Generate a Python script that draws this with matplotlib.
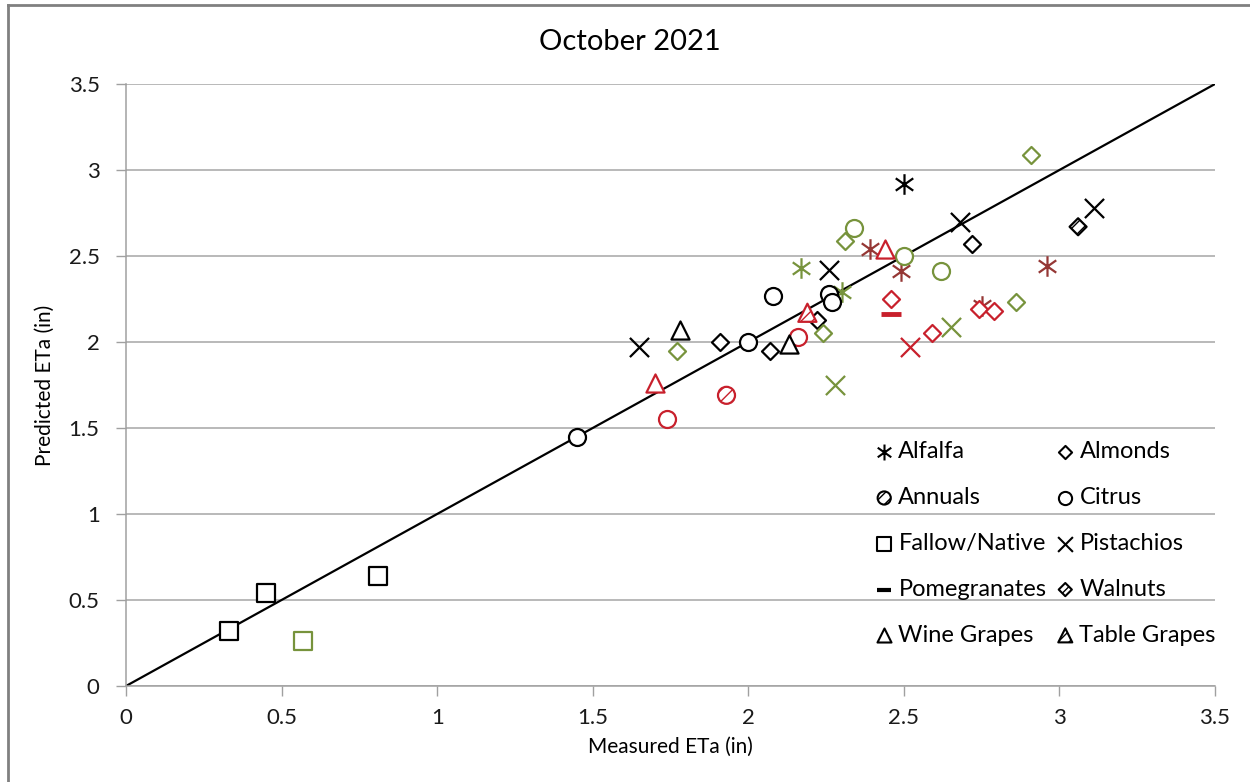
import matplotlib
matplotlib.use("Agg")
import matplotlib.pyplot as plt
from matplotlib.path import Path
from matplotlib.lines import Line2D

plt.rcParams["font.family"] = ["Lato", "DejaVu Sans"]
plt.rcParams["hatch.linewidth"] = 1.0

# colours used in the chart
black = "#000000"
green = "#77933C"
red = "#C8202C"
brown = "#953735"

# data, (x = measured, y = predicted), grouped by crop then colour
alfalfa = {
    black: ([2.50], [2.92]),
    green: ([2.17, 2.30], [2.43, 2.29]),
    brown: ([2.39, 2.49, 2.75, 2.96], [2.54, 2.41, 2.21, 2.44]),
}
almonds = {
    black: ([1.91, 2.07, 2.22, 2.72], [2.00, 1.95, 2.13, 2.57]),
    green: ([1.77, 2.24, 2.31, 2.86, 2.91], [1.95, 2.05, 2.59, 2.23, 3.09]),
    red: ([2.46, 2.59, 2.74, 2.79], [2.25, 2.05, 2.19, 2.18]),
}
annuals = {
    red: ([1.93], [1.69]),
}
citrus = {
    black: ([1.45, 2.00, 2.08, 2.26, 2.27], [1.45, 2.00, 2.27, 2.28, 2.23]),
    green: ([2.34, 2.50, 2.62], [2.66, 2.50, 2.41]),
    red: ([1.74, 2.16], [1.55, 2.03]),
}
fallow = {
    black: ([0.33, 0.45, 0.81], [0.32, 0.54, 0.64]),
    green: ([0.57], [0.26]),
}
pistachios = {
    black: ([1.65, 2.26, 2.68, 3.11], [1.97, 2.42, 2.70, 2.78]),
    green: ([2.28, 2.65], [1.75, 2.09]),
    red: ([2.52], [1.97]),
}
pomegranates = {
    red: ([2.46], [2.16]),
}
walnuts = {
    black: ([3.06], [2.67]),
}
wine_grapes = {
    black: ([1.78, 2.13], [2.07, 1.99]),
    red: ([1.70, 2.44], [1.76, 2.54]),
}
table_grapes = {
    red: ([2.19], [2.17]),
}

# Excel style "star": an X with a vertical bar
star = Path(
    [(0, -1), (0, 1), (-0.85, -0.6), (0.85, 0.6), (-0.85, 0.6), (0.85, -0.6)],
    [Path.MOVETO, Path.LINETO, Path.MOVETO, Path.LINETO, Path.MOVETO, Path.LINETO],
)

# crop -> (data, marker, size, hatch)
crops = [
    ("Alfalfa", alfalfa, star, 220, None),
    ("Almonds", almonds, "D", 75, None),
    ("Annuals", annuals, "o", 150, "///"),
    ("Citrus", citrus, "o", 150, None),
    ("Fallow/Native", fallow, "s", 170, None),
    ("Pistachios", pistachios, "x", 190, None),
    ("Pomegranates", pomegranates, "_", 190, None),
    ("Walnuts", walnuts, "D", 75, "///"),
    ("Wine Grapes", wine_grapes, "^", 170, None),
    ("Table Grapes", table_grapes, "^", 170, "///"),
]

fig = plt.figure(figsize=(12.5, 7.82), dpi=100)
ax = fig.add_axes([126 / 1250, 1 - 686 / 782, 1089 / 1250, 602 / 782])

# 1:1 line
ax.plot([0, 3.5], [0, 3.5], color="black", lw=1.6, zorder=2)

handles = {}
for name, data, marker, size, hatch in crops:
    lw = 3.5 if marker == "_" else 1.6
    for col, (xs, ys) in data.items():
        if marker in ("x", "_") or marker is star:
            ax.scatter(xs, ys, marker=marker, s=size, c=col, linewidths=lw, zorder=3)
        else:
            ax.scatter(xs, ys, marker=marker, s=size, facecolors="white",
                       edgecolors=col, linewidths=lw, hatch=hatch, zorder=3)
    # black legend entry
    if marker in ("x", "_") or marker is star:
        h = ax.scatter([], [], marker=marker, s=size * 0.6, c="black",
                       linewidths=3.0 if marker == "_" else 1.5)
    else:
        h = ax.scatter([], [], marker=marker, s=size * 0.6, facecolors="white",
                       edgecolors="black", linewidths=1.5, hatch=hatch)
    handles[name] = h

ax.set_xlim(0, 3.5)
ax.set_ylim(0, 3.5)
ticks = [0, 0.5, 1, 1.5, 2, 2.5, 3, 3.5]
tick_labels = ["0", "0.5", "1", "1.5", "2", "2.5", "3", "3.5"]
ax.set_xticks(ticks, tick_labels)
ax.set_yticks(ticks, tick_labels)
ax.tick_params(axis="both", direction="out", length=7, width=1, color="#A0A0A0",
               labelsize=16, labelcolor="#1a1a1a")
ax.tick_params(axis="y", pad=12)
ax.tick_params(axis="x", pad=9)
ax.yaxis.grid(True, color="#A6A6A6", lw=1.1)
ax.set_axisbelow(True)
for s in ["top", "right"]:
    ax.spines[s].set_visible(False)
for s in ["left", "bottom"]:
    ax.spines[s].set_color("#A0A0A0")
    ax.spines[s].set_linewidth(1.1)

ax.set_xlabel("Measured ETa (in)", fontsize=15, labelpad=6)
ax.set_ylabel("Predicted ETa (in)", fontsize=15, labelpad=10)
fig.text(630 / 1250, 1 - 42 / 782, "October 2021", fontsize=21,
         ha="center", va="center")

# legend laid out column-wise: left column then right column
order = ["Alfalfa", "Annuals", "Fallow/Native", "Pomegranates", "Wine Grapes",
         "Almonds", "Citrus", "Pistachios", "Walnuts", "Table Grapes"]
ax.legend([handles[n] for n in order], order, ncol=2, loc="upper left",
          bbox_to_anchor=(0.68, 0.422), frameon=False, fontsize=17,
          handlelength=0.7, handletextpad=0.25, columnspacing=0.45,
          labelspacing=1.05, scatterpoints=1, borderaxespad=0)

# outer frame (left and top edges visible)
fig.add_artist(Line2D([8 / 1250, 8 / 1250], [0, 1 - 5 / 782], color="#808080", lw=2))
fig.add_artist(Line2D([8 / 1250, 1], [1 - 5 / 782, 1 - 5 / 782], color="#808080", lw=2))

fig.savefig("out.png", dpi=100, facecolor="white")
